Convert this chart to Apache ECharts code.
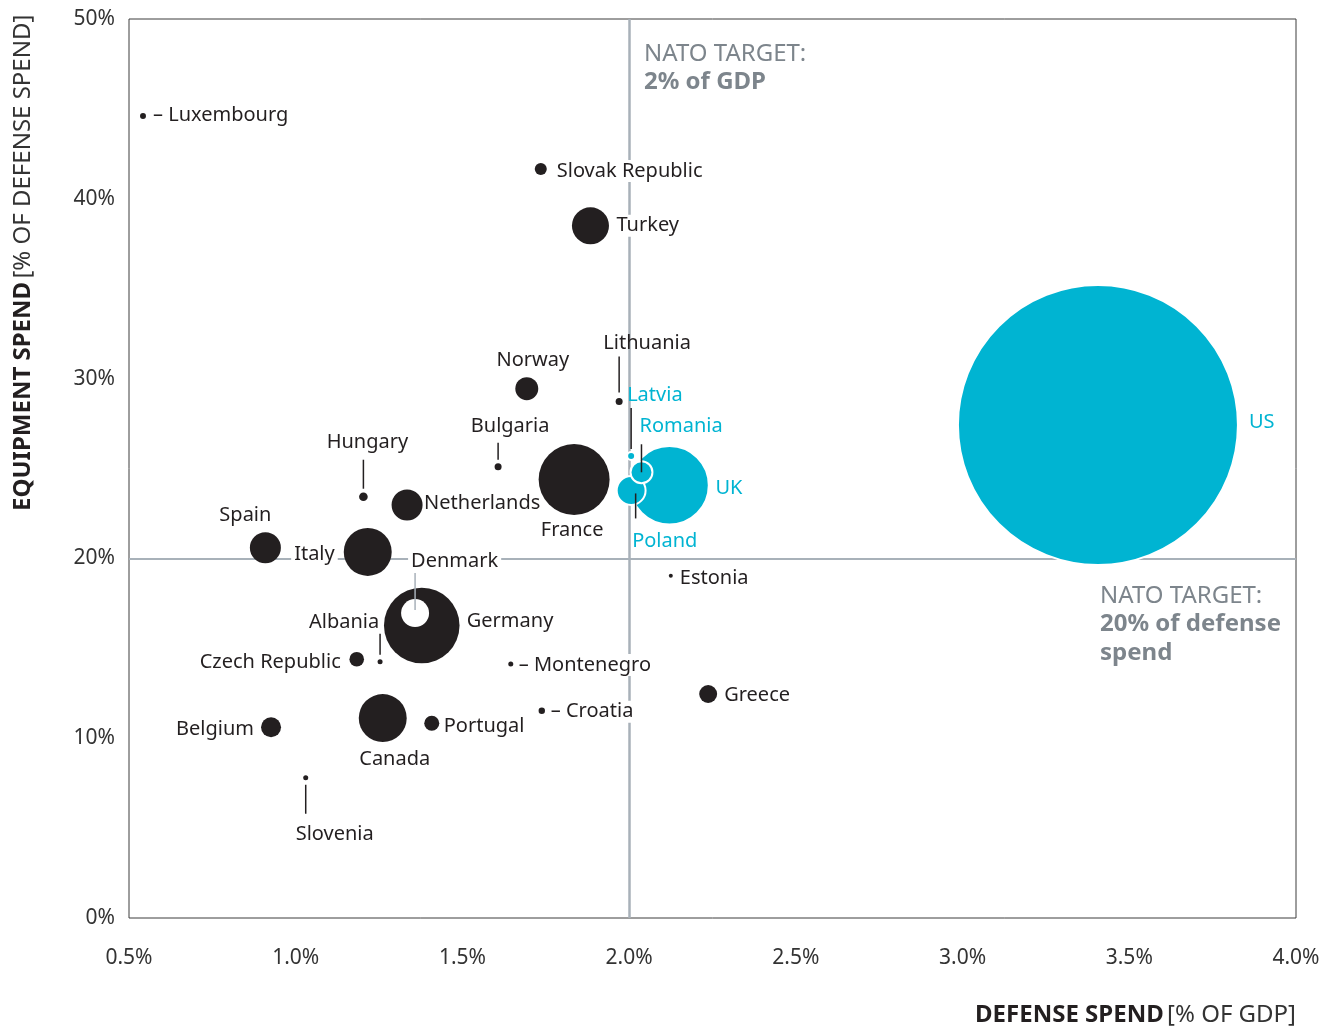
<!DOCTYPE html>
<html><head><meta charset="utf-8">
<script src="https://cdn.jsdelivr.net/npm/echarts@6/dist/echarts.min.js"></script>
<style>html,body{margin:0;padding:0;background:#fff}#c{width:1338px;height:1027px}</style>
</head><body><div id="c"></div><script>
// ---- data ----
const countries = ['Luxembourg','Slovak Republic','Turkey','Norway','Lithuania','Latvia','Romania','UK','Poland','France','Bulgaria','Hungary','Netherlands','Spain','Italy','Denmark','Germany','Albania','Czech Republic','Montenegro','Estonia','Greece','Croatia','Portugal','Canada','Belgium','Slovenia','US'];
// defense spend, % of GDP
const defenseGDP = [0.542,1.735,1.884,1.693,1.970,2.006,2.037,2.121,2.006,1.835,1.607,1.203,1.334,0.909,1.216,1.358,1.378,1.253,1.183,1.645,2.125,2.237,1.738,1.408,1.261,0.926,1.030,3.406];
// equipment spend, % of defense spend
const equipShare = [44.6,41.66,38.5,29.44,28.72,25.70,24.79,24.07,23.78,24.39,25.10,23.43,22.97,20.59,20.36,16.96,16.27,14.25,14.39,14.13,19.04,12.46,11.53,10.83,11.12,10.61,7.80,27.42];
// defense spend, USD bn (bubble area)
const spendBn = [0.31,1.26,12.0,4.6,0.43,0.56,4.2,54.0,7.3,44.0,0.43,0.65,8.4,8.4,20.1,6.85,49.9,0.22,1.86,0.22,0.14,2.8,0.36,1.97,20.1,3.5,0.22,685];
const natoGDPTarget = 2.0;
const natoEquipTarget = 20;
const xTicks = {min:0.5, max:4.0, step:0.5};
const yTicks = {min:0, max:50, step:10};

// ---- styles ----
const BLACK = '#231f20', CYAN = '#00b4d2', GRAY = '#a8b1b9', NATO = '#7d858c';
const FONT = 'Noto Sans';
const MAX_R = 140, MAX_V = 685;
const LABEL_DY = 2;
const labelCfg = {
  'Luxembourg': {text:'– Luxembourg', align:'left', offset:[10,-3]},
  'Slovak Republic': {align:'left', offset:[13,0], bg:true},
  'Turkey': {align:'left', offset:[23,-2], bg:true},
  'Norway': {align:'center', offset:[6,-30]},
  'Lithuania': {align:'center', offset:[28,-60]},
  'Latvia': {align:'left', offset:[-3,-62]},
  'Romania': {align:'left', offset:[-1,-47]},
  'UK': {align:'left', offset:[47,2]},
  'Poland': {align:'left', offset:[2,50]},
  'France': {align:'center', offset:[-2,49]},
  'Bulgaria': {align:'center', offset:[12,-42]},
  'Hungary': {align:'center', offset:[4,-56]},
  'Netherlands': {align:'left', offset:[17,-4]},
  'Spain': {align:'center', offset:[-20,-34]},
  'Italy': {align:'right', offset:[-30,0], bg:true},
  'Denmark': {align:'left', offset:[-7,-54], bg:true},
  'Germany': {align:'left', offset:[45,-6]},
  'Albania': {align:'center', offset:[-36,-41]},
  'Czech Republic': {align:'right', offset:[-16,1]},
  'Montenegro': {text:'– Montenegro', align:'left', offset:[5,-1], bg:true},
  'Estonia': {align:'left', offset:[9,1]},
  'Greece': {align:'left', offset:[16,-1]},
  'Croatia': {text:'– Croatia', align:'left', offset:[6,-1], bg:true},
  'Portugal': {align:'left', offset:[12,1]},
  'Canada': {align:'center', offset:[12,39]},
  'Belgium': {align:'right', offset:[-17,0]},
  'Slovenia': {align:'center', offset:[29,55]},
  'US': {align:'left', offset:[152,-4]}
};
const leaderCfg = {
  'Lithuania': {dx:0, y1:-45, y2:-9, color:BLACK},
  'Latvia': {dx:0, y1:-48, y2:-7, color:BLACK},
  'Romania': {dx:0, y1:-28, y2:0, color:BLACK},
  'Poland': {dx:4.5, y1:3, y2:28, color:BLACK},
  'Bulgaria': {dx:0, y1:-24, y2:-7, color:BLACK},
  'Hungary': {dx:0, y1:-37, y2:-8, color:BLACK},
  'Denmark': {dx:0, y1:-40, y2:-3, color:GRAY},
  'Albania': {dx:0, y1:-28, y2:-7, color:BLACK},
  'Slovenia': {dx:0, y1:7, y2:36, color:BLACK}
};

const radiusOf = v => MAX_R*Math.sqrt(v/MAX_V);
const order = countries.map((c,i)=>i).sort((a,b)=>spendBn[b]-spendBn[a]);
const bubbleData = order.map(i => {
  const name = countries[i];
  const meets = defenseGDP[i] >= natoGDPTarget && equipShare[i] >= natoEquipTarget;
  const color = meets ? CYAN : BLACK;
  const lc = labelCfg[name];
  const r = radiusOf(spendBn[i]);
  const label = {show:true, position:[r + lc.offset[0], r + lc.offset[1] + LABEL_DY], formatter: lc.text || name,
    align: lc.align, verticalAlign:'middle', color: color, opacity:1, fontFamily: FONT, fontSize: 20};
  if (lc.bg) { label.backgroundColor = '#fff'; label.padding = [1,3]; }
  let itemStyle = {color: color, opacity:1, borderColor:'#fff', borderWidth: meets ? 2 : 0};
  if (name === 'Denmark') itemStyle = {color:'#fff', opacity:1, borderWidth:0};
  return {name, value:[defenseGDP[i], equipShare[i], spendBn[i]], itemStyle, label};
});
const leaderData = countries.map((c,i)=>({name:c, value:[defenseGDP[i], equipShare[i]]})).filter(d=>leaderCfg[d.name]);

const chart = echarts.init(document.getElementById('c'), null, {renderer:'canvas'});
const axisLabelStyle = {color:'#333', fontFamily: FONT, fontSize: 21};
chart.setOption({
  animation:false,
  backgroundColor:'#fff',
  grid:{left:129, top:19, right:42, bottom:109, show:true, borderColor:'#3c3c3c', borderWidth:1, backgroundColor:'#fff'},
  xAxis:{type:'value', min:xTicks.min, max:xTicks.max, interval:xTicks.step,
    axisLine:{show:false}, axisTick:{show:false}, splitLine:{show:false},
    axisLabel:Object.assign({margin:30, formatter:v=>v.toFixed(1)+'%'}, axisLabelStyle)},
  yAxis:{type:'value', min:yTicks.min, max:yTicks.max, interval:yTicks.step,
    axisLine:{show:false}, axisTick:{show:false}, splitLine:{show:false},
    axisLabel:Object.assign({margin:14, padding:[4,0,0,0], formatter:v=>v+'%'}, axisLabelStyle)},
  series:[
    {type:'scatter', z:1, data:[], silent:true,
     markLine:{z:1, silent:true, symbol:['none','none'], label:{show:false},
       lineStyle:{color:GRAY, width:2.5, type:'solid', opacity:1},
       emphasis:{disabled:true},
       data:[{xAxis:natoGDPTarget},{yAxis:natoEquipTarget, lineStyle:{width:2}}]}},
    {type:'scatter', z:3, data:bubbleData, symbol:'circle',
     symbolSize: v => 2*radiusOf(v[2]),
     emphasis:{disabled:true}},
    {type:'custom', z:5, coordinateSystem:'cartesian2d', data:leaderData, silent:true,
     encode:{x:0,y:1},
     renderItem:(params, api)=>{
       const name = leaderData[params.dataIndex].name;
       const lc = leaderCfg[name];
       const p = api.coord([api.value(0), api.value(1)]);
       return {type:'line', shape:{x1:p[0]+lc.dx, y1:p[1]+lc.y1, x2:p[0]+lc.dx, y2:p[1]+lc.y2},
         style:{stroke:lc.color, lineWidth:1.5}};
     }}
  ],
  graphic:[
    {type:'text', left:644, top:42, z:10, style:{text:'{r|NATO TARGET:}\n{b|2% of GDP}', fill:NATO,
      rich:{r:{fontFamily:FONT, fontSize:24, fill:NATO, lineHeight:28}, b:{fontFamily:FONT, fontSize:24, fontWeight:'bold', fill:NATO, lineHeight:28}}}},
    {type:'text', left:1100, top:584, z:10, style:{text:'{r|NATO TARGET:}\n{b|20% of defense}\n{b|spend}', fill:NATO,
      rich:{r:{fontFamily:FONT, fontSize:24, fill:NATO, lineHeight:28.5}, b:{fontFamily:FONT, fontSize:24, fontWeight:'bold', fill:NATO, lineHeight:28.5}}}},
    {type:'text', right:42, top:1003, style:{text:'{b|DEFENSE SPEND} {r|[% OF GDP]}', fill:BLACK,
      rich:{b:{fontFamily:FONT, fontSize:24, fontWeight:'bold', fill:BLACK}, r:{fontFamily:FONT, fontSize:24, fill:'#333'}}}},
    {type:'text', x:23, y:511, rotation:Math.PI/2, style:{text:'{b|EQUIPMENT SPEND} {r|[% OF DEFENSE SPEND]}', align:'left', verticalAlign:'middle', fill:BLACK,
      rich:{b:{fontFamily:FONT, fontSize:24, fontWeight:'bold', fill:BLACK}, r:{fontFamily:FONT, fontSize:24, fill:'#333'}}}}
  ]
});
</script></body></html>
